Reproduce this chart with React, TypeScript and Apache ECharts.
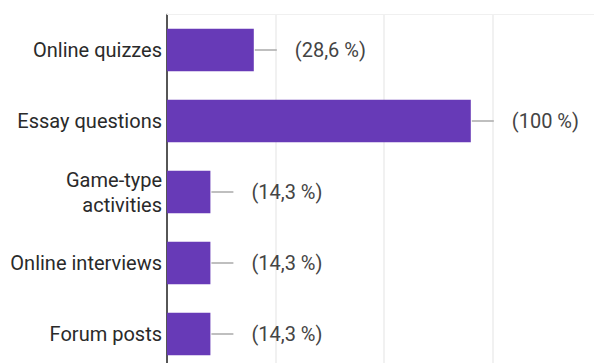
import React, { useEffect, useRef } from "react";
import * as echarts from "echarts";

const categories = ["Online quizzes", "Essay questions", "Game-type\nactivities", "Online interviews", "Forum posts"];
const counts = [2, 7, 1, 1, 1];
const percentLabels = ["(28,6 %)", "(100 %)", "(14,3 %)", "(14,3 %)", "(14,3 %)"];

export default function App() {
  const ref = useRef<HTMLDivElement>(null);
  useEffect(() => {
    if (!ref.current) return;
    const chart = echarts.init(ref.current, undefined, { renderer: "svg" });
    chart.setOption({
      animation: false,
      backgroundColor: "#ffffff",
      grid: { left: 167, width: 434, top: 14.5, height: 355, containLabel: false, outerBoundsMode: "none" },
      xAxis: {
        type: "value",
        position: "top",
        min: 0,
        max: 10,
        interval: 2.5,
        axisLine: { show: true, lineStyle: { color: "#f0f0f0", width: 1 } },
        axisTick: { show: false },
        axisLabel: { show: false },
        splitLine: { show: true, lineStyle: { color: "#ececec", width: 1.5 } },
      },
      yAxis: {
        type: "category",
        inverse: true,
        data: categories,
        axisLine: { show: true, onZero: false, lineStyle: { color: "#222222", width: 1.5 } },
        axisTick: { show: false },
        axisLabel: {
          margin: 5,
          fontSize: 20,
          lineHeight: 25,
          color: "#2a2a2a",
          fontFamily: "Roboto",
          align: "right",
        },
      },
      series: [
        {
          type: "bar",
          data: counts,
          barCategoryGap: "40%",
          itemStyle: { color: "#673ab7" },
          label: {
            show: true,
            position: "right",
            distance: 1,
            formatter: (p: any) => "{line|}{gap|}{t|" + percentLabels[p.dataIndex] + "}",
            rich: {
              line: { width: 22, height: 1.5, backgroundColor: "#aaaaaa", verticalAlign: "middle" },
              gap: { width: 18, height: 1, verticalAlign: "middle" },
              t: { fontSize: 20, color: "#444444", fontFamily: "Roboto", verticalAlign: "middle" },
            },
          },
        },
      ],
    });
    return () => chart.dispose();
  }, []);
  return (
    <div
      ref={ref}
      style={{ position: "fixed", left: 0, top: 0, width: 594, height: 363, background: "#fff" }}
    />
  );
}
